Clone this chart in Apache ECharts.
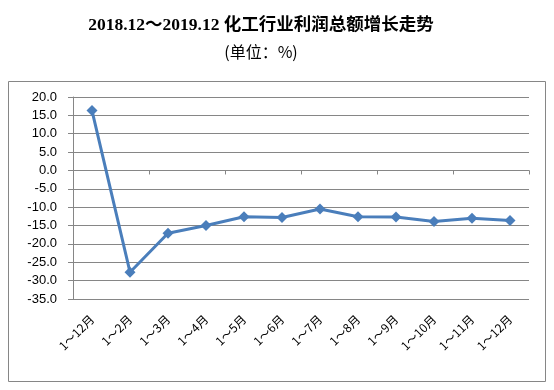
<!DOCTYPE html>
<html><head><meta charset="utf-8">
<script src="https://cdn.jsdelivr.net/npm/echarts@6/dist/echarts.min.js"></script>
<style>html,body{margin:0;padding:0;background:#fff}#c{width:554px;height:390px}</style>
</head><body><div id="c"></div>
<script>
var categories = ['1～12月','1～2月','1～3月','1～4月','1～5月','1～6月','1～7月','1～8月','1～9月','1～10月','1～11月','1～12月'];
var profitGrowth = [16.3, -27.7, -17.1, -15.0, -12.6, -12.8, -10.5, -12.6, -12.7, -13.9, -13.0, -13.6];
var titleText = '2018.12～2019.12 化工行业利润总额增长走势';
var subTitleText = '(单位：%)';

var chart = echarts.init(document.getElementById('c'));
chart.setOption({
  animation: false,
  backgroundColor: '#fff',
  graphic: [
    {type: 'rect', shape: {x: 8.5, y: 81.5, width: 537, height: 300}, style: {fill: 'none', stroke: '#868686', lineWidth: 1}, z: -1},
    {type: 'text', style: {text: titleText, x: 261, y: 25, textAlign: 'center', textVerticalAlign: 'middle', font: 'bold 17.5px "Liberation Serif", "Noto Sans CJK SC"', fill: '#000'}},
    {type: 'text', style: {text: subTitleText, x: 261, y: 52, textAlign: 'center', textVerticalAlign: 'middle', font: '16px "Noto Sans CJK SC", sans-serif', fill: '#000'}}
  ],
  grid: {left: 73, right: 25, top: 97, bottom: 91},
  xAxis: [
    {type: 'category', data: categories, boundaryGap: true,
     axisLine: {onZero: true, lineStyle: {color: '#868686', width: 1}},
     axisTick: {show: true, length: 4, inside: false, lineStyle: {color: '#868686'}},
     axisLabel: {show: false}},
    {type: 'category', data: categories, boundaryGap: true, position: 'bottom',
     axisLine: {show: false}, axisTick: {show: false},
     axisLabel: {rotate: 45, margin: 18, interval: 0, fontSize: 12, color: '#000', fontFamily: '"Noto Sans CJK SC", sans-serif'}}
  ],
  yAxis: {type: 'value', min: -35, max: 20, interval: 5,
    axisLine: {show: true, lineStyle: {color: '#868686'}},
    axisTick: {show: true, length: 5, lineStyle: {color: '#868686'}},
    splitLine: {lineStyle: {color: '#868686', width: 1}},
    axisLabel: {formatter: function(v){return v.toFixed(1);}, fontSize: 13, color: '#000', margin: 16, fontFamily: 'Liberation Sans, sans-serif'}},
  series: [{type: 'line', xAxisIndex: 0, data: profitGrowth, symbol: 'diamond', symbolSize: 11,
    lineStyle: {color: '#4A7EBB', width: 3}, itemStyle: {color: '#4A7EBB'}}]
});
</script></body></html>
